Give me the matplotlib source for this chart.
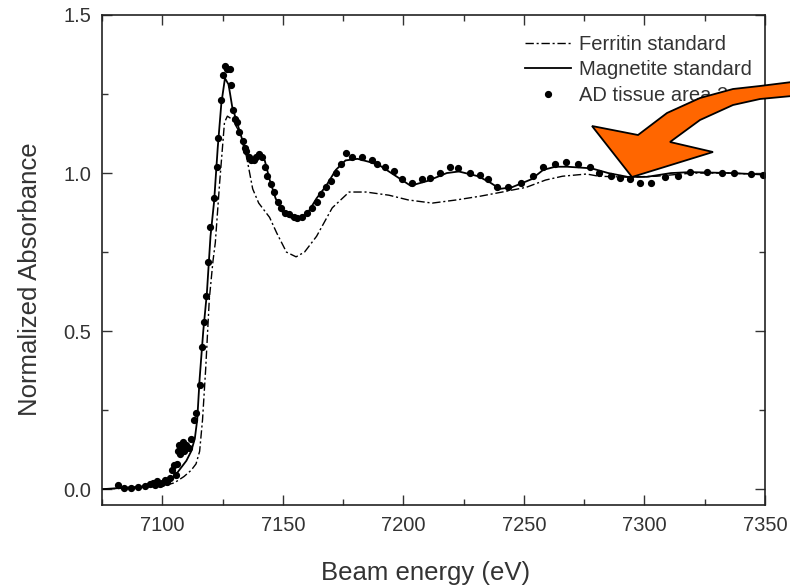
import matplotlib
matplotlib.use("Agg")
import matplotlib.pyplot as plt
from matplotlib.patches import Polygon
from matplotlib.ticker import MultipleLocator

plt.rcParams['font.family'] = ['Liberation Sans', 'DejaVu Sans']

# Magnetite standard (solid line)
mag_e = [7075, 7085, 7095, 7100, 7104, 7106, 7108, 7110, 7112, 7113.5, 7114.5,
         7115.5, 7117, 7118.5, 7120, 7121.5, 7123, 7124.5, 7126, 7127.5, 7129,
         7131, 7133, 7135, 7137.5, 7140, 7142.5, 7144.5, 7147, 7150, 7153, 7156,
         7160, 7164, 7168, 7172, 7176, 7181, 7186, 7190, 7197, 7203, 7210, 7218,
         7223, 7231, 7236, 7240, 7245, 7253, 7258, 7263, 7268, 7278, 7285, 7293,
         7301, 7311, 7319, 7336, 7350]
mag_a = [0.0, 0.005, 0.01, 0.015, 0.03, 0.05, 0.07, 0.09, 0.12, 0.16, 0.22,
         0.35, 0.50, 0.62, 0.80, 0.91, 1.08, 1.22, 1.30, 1.28, 1.21,
         1.16, 1.11, 1.06, 1.04, 1.05, 1.04, 0.98, 0.92, 0.875, 0.86, 0.855,
         0.87, 0.92, 0.96, 1.01, 1.04, 1.045, 1.035, 1.025, 0.99, 0.96, 0.975, 1.0,
         1.005, 0.99, 0.97, 0.95, 0.955, 0.98, 1.01, 1.02, 1.02, 1.015, 1.0, 0.988,
         0.988, 1.0, 1.003, 1.0, 0.995]

# Ferritin standard (dash-dot line)
fer_e = [7075, 7090, 7100, 7105, 7109, 7112, 7114, 7115.5, 7116.7, 7118, 7119.5,
         7121, 7122, 7123.8, 7125.8, 7127, 7129, 7132, 7135, 7137.5, 7140, 7144.5,
         7147.5, 7151.5, 7155.5, 7159, 7164, 7170.5, 7177.5, 7184.5, 7194, 7202,
         7212, 7222, 7232, 7241, 7251, 7259, 7266, 7276, 7281, 7293, 7305, 7320,
         7335, 7350]
fer_a = [0.0, 0.005, 0.01, 0.02, 0.04, 0.06, 0.08, 0.12, 0.22, 0.38, 0.60,
         0.72, 0.78, 0.97, 1.16, 1.18, 1.17, 1.13, 1.05, 0.95, 0.905, 0.86,
         0.81, 0.75, 0.735, 0.75, 0.80, 0.89, 0.94, 0.94, 0.93, 0.915,
         0.905, 0.915, 0.927, 0.94, 0.955, 0.978, 0.99, 0.997, 0.99, 0.987, 0.99, 1.0,
         1.0, 0.995]

# AD tissue area 2 (dots)
ad_e = [7081.5, 7084, 7087, 7090, 7093, 7095, 7096, 7097, 7098, 7099, 7100,
        7101, 7102, 7103, 7104, 7105, 7105.5, 7106, 7106.5, 7107, 7107.5, 7108,
        7108.5, 7109, 7110, 7111, 7112, 7113, 7114, 7115.5, 7116.5, 7117.3,
        7118.2, 7118.8, 7120, 7121.3, 7122.5, 7123, 7124.2, 7125, 7126.2, 7127,
        7128, 7128.7, 7129.2, 7130, 7130.8, 7132, 7133.3, 7134.2, 7134.9, 7136,
        7137, 7138, 7139, 7140.3, 7141.5, 7142.5, 7143.6, 7145, 7146.5, 7148,
        7149.4, 7151, 7152.7, 7154.5, 7156, 7158, 7160, 7162, 7164, 7166, 7168,
        7170, 7172, 7174, 7176.2, 7178.8, 7182.9, 7187, 7189, 7192.5, 7196,
        7199.5, 7203.5, 7207.7, 7211, 7215, 7219.2, 7222.7, 7227.5, 7231.6, 7235,
        7239, 7243.4, 7248.8, 7253.6, 7257.8, 7263, 7267.6, 7272.5, 7277.5, 7281,
        7286, 7290, 7294, 7298, 7302.7, 7308.5, 7313.8, 7319, 7326, 7332, 7337,
        7344, 7349]
ad_a = [0.012, 0.005, 0.004, 0.006, 0.01, 0.015, 0.02, 0.012, 0.025, 0.018, 0.02,
        0.03, 0.022, 0.035, 0.06, 0.075, 0.045, 0.08, 0.12, 0.14, 0.11, 0.13,
        0.15, 0.12, 0.14, 0.13, 0.16, 0.22, 0.24, 0.33, 0.45, 0.53,
        0.61, 0.72, 0.83, 0.92, 1.02, 1.11, 1.23, 1.31, 1.34, 1.33,
        1.33, 1.28, 1.20, 1.17, 1.16, 1.13, 1.10, 1.08, 1.07, 1.05,
        1.04, 1.04, 1.05, 1.06, 1.05, 1.02, 0.99, 0.965, 0.94, 0.91,
        0.89, 0.875, 0.87, 0.86, 0.857, 0.86, 0.875, 0.89, 0.91, 0.935, 0.955,
        0.975, 1.0, 1.03, 1.063, 1.05, 1.052, 1.04, 1.03, 1.02, 1.005,
        0.98, 0.97, 0.98, 0.985, 1.0, 1.02, 1.015, 1.0, 0.995, 0.98,
        0.955, 0.955, 0.97, 0.99, 1.02, 1.03, 1.035, 1.03, 1.02, 1.0,
        0.99, 0.985, 0.98, 0.97, 0.968, 0.987, 0.99, 1.003, 1.003, 1.0, 1.0,
        0.997, 0.995]

W, H = 790, 587
fig = plt.figure(figsize=(W / 100, H / 100), dpi=100)
ax = fig.add_axes([102 / W, 1 - 505 / H, (765 - 102) / W, (505 - 15) / H])

ax.plot(fer_e, fer_a, color='black', lw=1.0, ls=(0, (6, 2, 1.5, 2)),
        label='Ferritin standard')
ax.plot(mag_e, mag_a, color='black', lw=1.3, label='Magnetite standard')
ax.plot(ad_e, ad_a, ls='none', marker='o', ms=4.2, color='black',
        label='AD tissue area 2')

ax.set_xlim(7075, 7350)
ax.set_ylim(-0.05, 1.5)
ax.xaxis.set_major_locator(MultipleLocator(50))
ax.xaxis.set_minor_locator(MultipleLocator(25))
ax.yaxis.set_major_locator(MultipleLocator(0.5))
ax.yaxis.set_minor_locator(MultipleLocator(0.25))
ax.yaxis.set_major_formatter(lambda v, p: f'{v:.1f}')
ax.tick_params(which='both', direction='in', top=True, right=True,
               labelsize=14.5, width=1.0, colors='#333333')
ax.tick_params(which='major', length=7, pad=8)
ax.tick_params(which='minor', length=4.5)
for s in ax.spines.values():
    s.set_linewidth(1.2)
    s.set_color('#222222')

fig.text(426 / W, 1 - 573 / H, 'Beam energy (eV)', fontsize=18.5,
         ha='center', va='center', color='#333333')
fig.text(30 / W, 1 - 279 / H, 'Normalized Absorbance', fontsize=18.5,
         ha='center', va='center', rotation=90, color='#333333')

ax.legend(loc='upper left', bbox_to_anchor=(525 / W, 1 - 35 / H),
          bbox_transform=fig.transFigure, frameon=False, fontsize=14.5,
          handlelength=2.3, handletextpad=0.4, borderpad=0, borderaxespad=0,
          labelspacing=0.32, numpoints=1, labelcolor='#333333')

# orange callout arrow (annotation drawn over the figure)
arrow_px = [(632, 177), (713, 152), (670, 142), (700, 120), (733, 105),
            (760, 99), (792, 96), (792, 82), (760, 86), (733, 89), (700, 98),
            (667, 113), (638, 135), (592, 126)]
arrow_pts = [(x / W, 1 - y / H) for x, y in arrow_px]
fig.add_artist(Polygon(arrow_pts, closed=True, transform=fig.transFigure,
                       facecolor='#ff6600', edgecolor='black', lw=1.3,
                       zorder=10, clip_on=False))

fig.savefig('out.png', dpi=100)
